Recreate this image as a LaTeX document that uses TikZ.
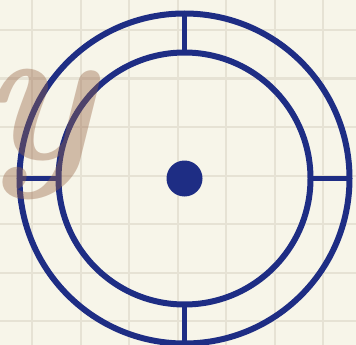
\documentclass[tikz,border=0pt]{standalone}
\usepackage{fontspec}
\usetikzlibrary{positioning, calc}
\definecolor{paper}{RGB}{247,245,233}
\definecolor{gridc}{RGB}{230,226,212}
\definecolor{navy}{RGB}{30,45,132}
\definecolor{inkbrown}{RGB}{150,100,70}

\begin{document}
\begin{tikzpicture}[x=1pt, y=-1pt,
    ring/.style={circle, draw=navy, line width=6pt, inner sep=0pt, outer sep=0pt},
    spoke/.style={draw=navy, line width=5pt}]
  \useasboundingbox[fill=paper] (0,0) rectangle (356,345);
  % grid
  \foreach \k in {0,...,6} {
    \draw[gridc, line width=2pt] ({32+48.5*\k},0) -- ({32+48.5*\k},345);
    \draw[gridc, line width=2pt] (0,{30+48.5*\k}) -- (356,{30+48.5*\k});
  }
  \coordinate (C) at (184.5,178.5);
  \node[ring, minimum size=330pt] (outer) at (C) {};
  \node[ring, minimum size=252pt] (inner) at (C) {};
  \node[circle, fill=navy, minimum size=36pt, inner sep=0pt] (hub) at (C) {};
  \draw[spoke] (outer.north) -- (inner.north);
  \draw[spoke] (outer.south) -- (inner.south);
  \draw[spoke] (outer.west) -- (inner.west);
  \draw[spoke] (outer.east) -- (inner.east);
  % faded letter
  \node[text=inkbrown, opacity=0.4, inner sep=0pt] (letter) at (38,134)
    {\fontsize{200}{200}\selectfont\bfseries\itshape y};
\end{tikzpicture}
\end{document}
